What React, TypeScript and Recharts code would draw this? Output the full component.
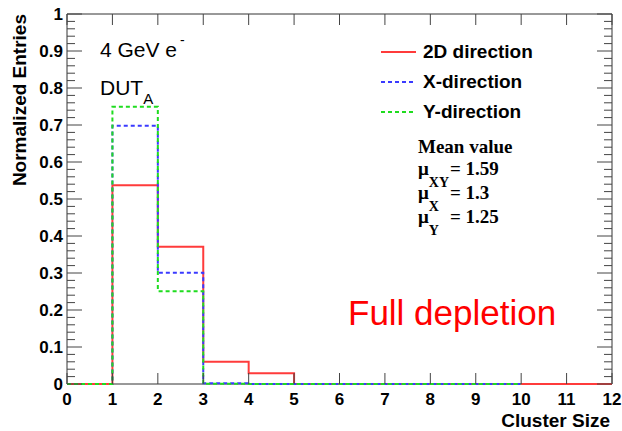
import { Legend, Line, LineChart, ReferenceArea, XAxis, YAxis } from "recharts";

// bin edges of the cluster-size histogram and the content of each bin (value holds until the next edge)
const edges = [0, 1, 2, 3, 4, 5, 6, 7, 8, 9, 10, 11, 12];
const val2D = [0, 0.537, 0.371, 0.06, 0.029, 0, 0, 0, 0, 0, 0, 0, 0];
const edgesXY = [0, 1, 2, 3, 4, 5, 6, 7, 8, 9, 10];
const valX = [0, 0.698, 0.301, 0.002, 0, 0, 0, 0, 0, 0, 0];
const valY = [0, 0.749, 0.251, 0.001, 0, 0, 0, 0, 0, 0, 0];

const xTicks = [0, 1, 2, 3, 4, 5, 6, 7, 8, 9, 10, 11, 12];
const yTicks = [0, 0.1, 0.2, 0.3, 0.4, 0.5, 0.6, 0.7, 0.8, 0.9, 1];
const yMinorOffsets = [0.02, 0.04, 0.06, 0.08]; // ROOT 510 divisions: 4 small ticks between labelled ones

const series = [
  { key: "2D", name: "2D direction", color: "#ff3b3b", dash: undefined as string | undefined },
  { key: "X", name: "X-direction", color: "#3a3aff", dash: "4 3" },
  { key: "Y", name: "Y-direction", color: "#1fdc1f", dash: "4 3" },
];

const toPoints = (xs: number[], ys: number[]) => xs.map((x, i) => ({ x, v: ys[i] }));
const seriesData: Record<string, { x: number; v: number }[]> = {
  "2D": toPoints(edges, val2D),
  X: toPoints(edgesXY, valX),
  Y: toPoints(edgesXY, valY),
};

const W = 622;
const H = 431;
const PLOT = { left: 67, right: 612, top: 14, bottom: 384 };
const sans = "'Liberation Sans', Arial, Helvetica, sans-serif";
const serif = "'Liberation Serif', 'Times New Roman', serif";
const tickColor = "#444";
const yPix = (v: number) => PLOT.bottom - v * (PLOT.bottom - PLOT.top);

function YTick(props: any) {
  const y = Number(props.y);
  const v = Number(props.payload?.value);
  return (
    <g>
      <line x1={PLOT.left} x2={PLOT.left + 15} y1={y} y2={y} stroke={tickColor} />
      <line x1={PLOT.right} x2={PLOT.right - 15} y1={y} y2={y} stroke={tickColor} />
      <text x={63} y={y} textAnchor="end" dominantBaseline="central" fontFamily={sans} fontWeight="bold" fontSize={17} fill="#000">
        {String(v)}
      </text>
    </g>
  );
}

function XTick({ x, payload }: any) {
  return (
    <g>
      <line x1={x} x2={x} y1={PLOT.bottom} y2={PLOT.bottom - 11} stroke={tickColor} />
      <line x1={x} x2={x} y1={PLOT.top} y2={PLOT.top + 11} stroke={tickColor} />
      <text x={x} y={PLOT.bottom + 15} textAnchor="middle" dominantBaseline="central" fontFamily={sans} fontWeight="bold" fontSize={17} fill="#000">
        {payload.value}
      </text>
    </g>
  );
}

function LegendBox() {
  return (
    <div style={{ fontFamily: sans, fontWeight: "bold", fontSize: 19, color: "#000" }}>
      {series.map((s) => (
        <div key={s.key} style={{ display: "flex", alignItems: "center", height: 30 }}>
          <svg width={45} height={30}>
            <line x1={3} x2={38} y1={15} y2={15} stroke={s.color} strokeWidth={2} strokeDasharray={s.dash} />
          </svg>
          <span>{s.name}</span>
        </div>
      ))}
    </div>
  );
}

export default function App() {
  const minorVals = yTicks.slice(0, -1).flatMap((m) => yMinorOffsets.map((d) => m + d));
  return (
    <div style={{ position: "absolute", left: 0, top: 0, width: W, height: H, background: "#fff" }}>
      <LineChart width={W} height={H} margin={{ top: PLOT.top, right: W - PLOT.right, bottom: 0, left: 0 }}>
        <XAxis
          type="number"
          dataKey="x"
          domain={[0, 12]}
          ticks={xTicks}
          interval={0}
          height={H - PLOT.bottom}
          axisLine={false}
          tickLine={false}
          tickSize={0}
          tickMargin={0}
          tick={<XTick />}
          allowDuplicatedCategory={false}
        />
        <YAxis
          type="number"
          domain={[0, 1]}
          ticks={yTicks}
          interval={0}
          width={PLOT.left}
          axisLine={false}
          tickLine={false}
          tickSize={0}
          tick={<YTick />}
        />
        <ReferenceArea x1={0} x2={12} y1={0} y2={1} fill="none" stroke="#333" strokeWidth={1} />
        {series.map((s) => (
          <Line
            key={s.key}
            data={seriesData[s.key]}
            dataKey="v"
            name={s.name}
            type="stepAfter"
            stroke={s.color}
            strokeWidth={2}
            strokeDasharray={s.dash}
            dot={false}
            activeDot={false}
            isAnimationActive={false}
          />
        ))}
        <Legend
          layout="vertical"
          align="center"
          verticalAlign="middle"
          wrapperStyle={{ left: 378, top: 37, width: 220, margin: 0 }}
          content={<LegendBox />}
        />
      </LineChart>
      <svg width={W} height={H} style={{ position: "absolute", left: 0, top: 0, pointerEvents: "none" }}>
        {minorVals.map((mv) => (
          <g key={mv}>
            <line x1={PLOT.left} x2={PLOT.left + 8} y1={yPix(mv)} y2={yPix(mv)} stroke={tickColor} />
            <line x1={PLOT.right} x2={PLOT.right - 8} y1={yPix(mv)} y2={yPix(mv)} stroke={tickColor} />
          </g>
        ))}
        <text
          transform={`translate(19, ${PLOT.top}) rotate(-90)`}
          textAnchor="end"
          dominantBaseline="central"
          fontFamily={sans}
          fontWeight="bold"
          fontSize={19}
        >
          Normalized Entries
        </text>
        <text x={PLOT.right - 2} y={427} textAnchor="end" fontFamily={sans} fontWeight="bold" fontSize={19}>
          Cluster Size
        </text>
        <text x={100} y={57} fontFamily={sans} fontSize={21}>
          4 GeV e
          <tspan dx={3} dy={-12} fontSize={14}>-</tspan>
        </text>
        <text x={100} y={95} fontFamily={sans} fontSize={21}>
          DUT
          <tspan dy={9} fontSize={15}>A</tspan>
        </text>
        <text x={348} y={325} fontFamily={sans} fontSize={35} fill="#ff0000">
          Full depletion
        </text>
        <g fontFamily={serif} fontWeight="bold" fontSize={19}>
          <text x={418} y={153}>Mean value</text>
          <text x={418} y={175}>
            μ<tspan dy={12} fontSize={14}>XY</tspan>
          </text>
          <text x={450} y={175}>= 1.59</text>
          <text x={418} y={199}>
            μ<tspan dy={12} fontSize={14}>X</tspan>
          </text>
          <text x={450} y={199}>= 1.3</text>
          <text x={418} y={223}>
            μ<tspan dy={12} fontSize={14}>Y</tspan>
          </text>
          <text x={450} y={223}>= 1.25</text>
        </g>
      </svg>
    </div>
  );
}
